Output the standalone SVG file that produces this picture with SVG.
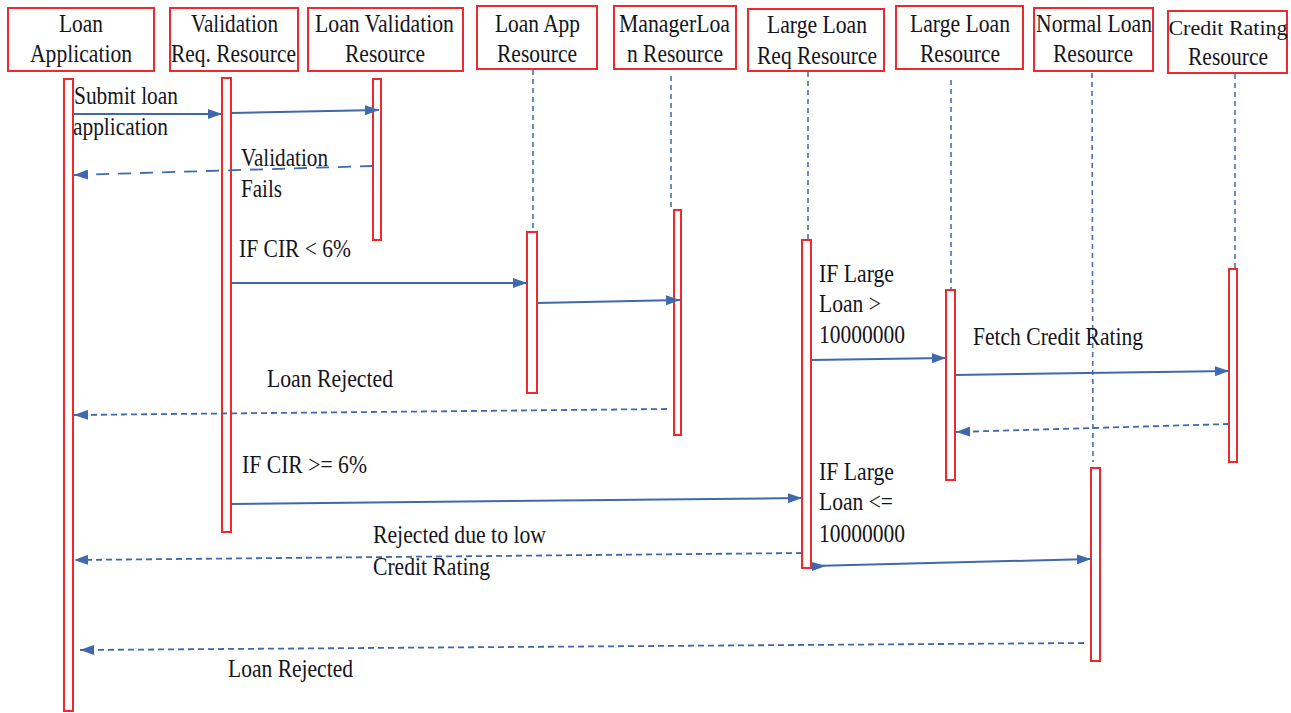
<svg xmlns="http://www.w3.org/2000/svg" width="1291" height="713" viewBox="0 0 1291 713">
<defs>
<style>
.box{fill:#fff;stroke:#ee2a2e;stroke-width:2}
.bar{fill:#fff;stroke:#ee2a2e;stroke-width:2}
.life{stroke:#4a70ad;stroke-width:1.6;stroke-dasharray:5 4;fill:none}
.msg{stroke:#3f68ad;stroke-width:2;fill:none}
.ret{stroke:#3f68ad;stroke-width:1.8;fill:none;stroke-dasharray:6 4}
.retl{stroke:#3f68ad;stroke-width:1.8;fill:none;stroke-dasharray:13 9}
text{font-family:"Liberation Serif","Times New Roman",serif;font-size:25px;fill:#141420}
</style>
<marker id="ah" viewBox="0 0 14 10" refX="14" refY="5" markerWidth="14" markerHeight="10" markerUnits="userSpaceOnUse" orient="auto">
<path d="M0,0 L14,5 L0,10 z" fill="#3f68ad"/>
</marker>
</defs>

<g id="node-loan-application">
<rect class="box" x="8" y="8" width="146" height="63"/>
<text x="59" y="32" textLength="44" lengthAdjust="spacingAndGlyphs">Loan</text>
<text x="30" y="62" textLength="102" lengthAdjust="spacingAndGlyphs">Application</text>
<rect class="bar" x="64" y="79" width="9" height="632"/>
</g>

<g id="node-validation-req">
<rect class="box" x="170" y="8" width="128" height="63"/>
<text x="191" y="32" textLength="87" lengthAdjust="spacingAndGlyphs">Validation</text>
<text x="171" y="62" textLength="125" lengthAdjust="spacingAndGlyphs">Req. Resource</text>
<rect class="bar" x="222" y="78" width="9" height="454"/>
</g>

<g id="node-loan-validation">
<rect class="box" x="308" y="8" width="155" height="63"/>
<text x="315" y="32" textLength="139" lengthAdjust="spacingAndGlyphs">Loan Validation</text>
<text x="345" y="62" textLength="80" lengthAdjust="spacingAndGlyphs">Resource</text>
<rect class="bar" x="373" y="79" width="8" height="161"/>
</g>

<g id="node-loan-app">
<rect class="box" x="477" y="6" width="120" height="63"/>
<text x="495" y="32" textLength="85" lengthAdjust="spacingAndGlyphs">Loan App</text>
<text x="497" y="62" textLength="80" lengthAdjust="spacingAndGlyphs">Resource</text>
<line class="life" x1="533" y1="70" x2="533" y2="232"/>
<rect class="bar" x="527" y="232" width="10" height="161"/>
</g>

<g id="node-manager-loan">
<rect class="box" x="614" y="6" width="122" height="63"/>
<text x="619" y="32" textLength="111" lengthAdjust="spacingAndGlyphs">ManagerLoa</text>
<text x="627" y="62" textLength="96" lengthAdjust="spacingAndGlyphs">n Resource</text>
<line class="life" x1="671" y1="76" x2="671" y2="210"/>
<rect class="bar" x="674" y="210" width="7" height="225"/>
</g>

<g id="node-large-loan-req">
<rect class="box" x="748" y="9" width="136" height="62"/>
<text x="767" y="33" textLength="100" lengthAdjust="spacingAndGlyphs">Large Loan</text>
<text x="757" y="64" textLength="120" lengthAdjust="spacingAndGlyphs">Req Resource</text>
<line class="life" x1="808" y1="72" x2="808" y2="240"/>
<rect class="bar" x="802" y="240" width="9" height="328"/>
</g>

<g id="node-large-loan">
<rect class="box" x="896" y="6" width="127" height="63"/>
<text x="910" y="32" textLength="100" lengthAdjust="spacingAndGlyphs">Large Loan</text>
<text x="920" y="62" textLength="80" lengthAdjust="spacingAndGlyphs">Resource</text>
<line class="life" x1="951" y1="80" x2="951" y2="290"/>
<rect class="bar" x="946" y="290" width="9" height="190"/>
</g>

<g id="node-normal-loan">
<rect class="box" x="1034" y="8" width="119" height="63"/>
<text x="1036" y="32" textLength="116" lengthAdjust="spacingAndGlyphs">Normal Loan</text>
<text x="1053" y="62" textLength="80" lengthAdjust="spacingAndGlyphs">Resource</text>
<line class="life" x1="1092" y1="73" x2="1093" y2="462"/>
<rect class="bar" x="1091" y="468" width="9" height="193"/>
</g>

<g id="node-credit-rating">
<rect class="box" x="1168" y="11" width="119" height="62"/>
<text x="1228" y="35" text-anchor="middle" style="font-size:22px">Credit Rating</text>
<text x="1188" y="65" textLength="80" lengthAdjust="spacingAndGlyphs">Resource</text>
<line class="life" x1="1235" y1="74" x2="1235" y2="269"/>
<rect class="bar" x="1229" y="269" width="8" height="193"/>
</g>

<g id="connectors">
<line class="msg" x1="73" y1="114" x2="222" y2="114" marker-end="url(#ah)"/>
<line class="msg" x1="231" y1="113" x2="379" y2="110" marker-end="url(#ah)"/>
<line class="retl" x1="373" y1="166" x2="74" y2="175" marker-end="url(#ah)"/>
<line class="msg" x1="231" y1="283" x2="527" y2="283" marker-end="url(#ah)"/>
<line class="msg" x1="537" y1="303" x2="680" y2="300" marker-end="url(#ah)"/>
<line class="ret" x1="667" y1="409" x2="74" y2="415" marker-end="url(#ah)"/>
<line class="msg" x1="231" y1="504" x2="802" y2="498" marker-end="url(#ah)"/>
<line class="msg" x1="811" y1="360" x2="946" y2="358" marker-end="url(#ah)"/>
<line class="msg" x1="955" y1="375" x2="1229" y2="371" marker-end="url(#ah)"/>
<line class="ret" x1="1229" y1="424" x2="956" y2="432" marker-end="url(#ah)"/>
<line class="msg" x1="812" y1="566" x2="1091" y2="559" marker-end="url(#ah)"/>
<path d="M812,562 L826,566 L812,571 z" fill="#3f68ad"/>
<line class="ret" x1="802" y1="553" x2="74" y2="560" marker-end="url(#ah)"/>
<line class="ret" x1="1084" y1="643" x2="80" y2="650" marker-end="url(#ah)"/>
</g>

<g id="labels">
<text x="74" y="104" textLength="104" lengthAdjust="spacingAndGlyphs">Submit loan</text>
<text x="73" y="135" textLength="95" lengthAdjust="spacingAndGlyphs">application</text>
<text x="241" y="166" textLength="87" lengthAdjust="spacingAndGlyphs">Validation</text>
<text x="241" y="197" textLength="41" lengthAdjust="spacingAndGlyphs">Fails</text>
<text x="239" y="257" textLength="112" lengthAdjust="spacingAndGlyphs">IF CIR &lt; 6%</text>
<text x="267" y="387" textLength="126" lengthAdjust="spacingAndGlyphs">Loan Rejected</text>
<text x="242" y="473" textLength="125" lengthAdjust="spacingAndGlyphs">IF CIR &gt;= 6%</text>
<text x="819" y="282" textLength="75" lengthAdjust="spacingAndGlyphs">IF Large</text>
<text x="819" y="312" textLength="62" lengthAdjust="spacingAndGlyphs">Loan &gt;</text>
<text x="819" y="343" textLength="86" lengthAdjust="spacingAndGlyphs">10000000</text>
<text x="973" y="345" textLength="170" lengthAdjust="spacingAndGlyphs">Fetch Credit Rating</text>
<text x="819" y="480" textLength="75" lengthAdjust="spacingAndGlyphs">IF Large</text>
<text x="819" y="510" textLength="74" lengthAdjust="spacingAndGlyphs">Loan &lt;=</text>
<text x="819" y="542" textLength="86" lengthAdjust="spacingAndGlyphs">10000000</text>
<text x="373" y="543" textLength="173" lengthAdjust="spacingAndGlyphs">Rejected due to low</text>
<text x="373" y="575" textLength="117" lengthAdjust="spacingAndGlyphs">Credit Rating</text>
<text x="228" y="677" textLength="125" lengthAdjust="spacingAndGlyphs">Loan Rejected</text>
</g>
</svg>
